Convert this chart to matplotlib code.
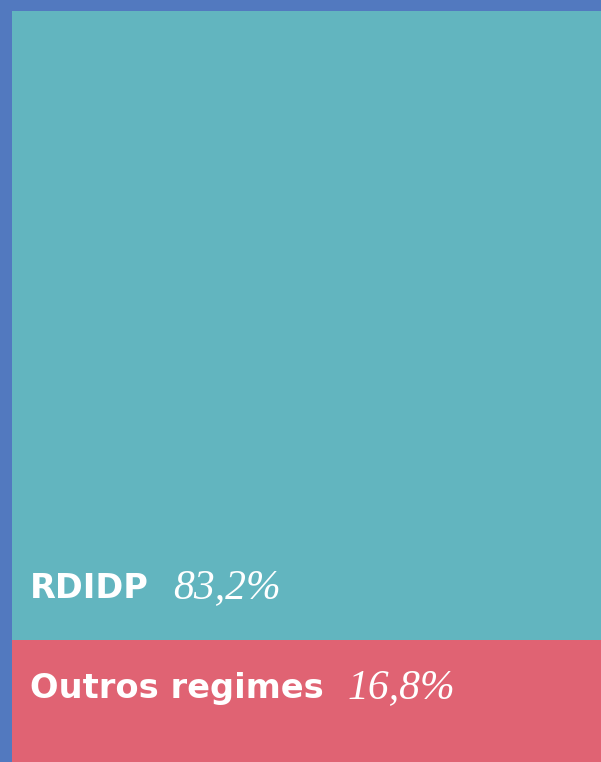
import matplotlib
matplotlib.use("Agg")
import matplotlib.pyplot as plt

# Share of each regime (percent)
categories = ["Outros regimes", "RDIDP"]
shares = [16.8, 83.2]
value_labels = ["16,8%", "83,2%"]
colors = ["#E06373", "#62B5BF"]

W, H, DPI = 601, 762, 100
fig = plt.figure(figsize=(W / DPI, H / DPI), dpi=DPI, facecolor="#5279BF")

left_px, top_px, bottom_px = 12, 11, 767
ax = fig.add_axes([left_px / W, 1 - bottom_px / H, 1 - left_px / W,
                   (bottom_px - top_px) / H])
ax.set_xlim(-0.5, 0.5)
ax.set_ylim(0, 100)
ax.axis("off")

bottom = 0
for cat, val, col in zip(categories, shares, colors):
    ax.bar(0, val, bottom=bottom, width=1.0, color=col, linewidth=0)
    bottom += val

fig.canvas.draw()
renderer = fig.canvas.get_renderer()

# Label positions: offsets (in pixels) from the boundary between the segments
boundary = shares[0]
offsets = {"Outros regimes": -58, "RDIDP": 42}
x_axes = (30 - left_px) / (W - left_px)

for cat, lab in zip(categories, value_labels):
    t = ax.annotate(cat, xy=(x_axes, boundary), xycoords=("axes fraction", "data"),
                    xytext=(0, offsets[cat]), textcoords="offset pixels",
                    ha="left", va="baseline", color="white",
                    fontsize=24.2, fontweight="bold", family="DejaVu Sans")
    bb = t.get_window_extent(renderer)
    x_val = (bb.x1 + 24 - ax.bbox.x0) / ax.bbox.width
    ax.annotate(lab, xy=(x_val, boundary), xycoords=("axes fraction", "data"),
                xytext=(0, offsets[cat]), textcoords="offset pixels",
                ha="left", va="baseline", color="white",
                fontsize=30, fontstyle="italic", family="Liberation Serif")

fig.savefig("out.png", dpi=DPI, facecolor=fig.get_facecolor())
